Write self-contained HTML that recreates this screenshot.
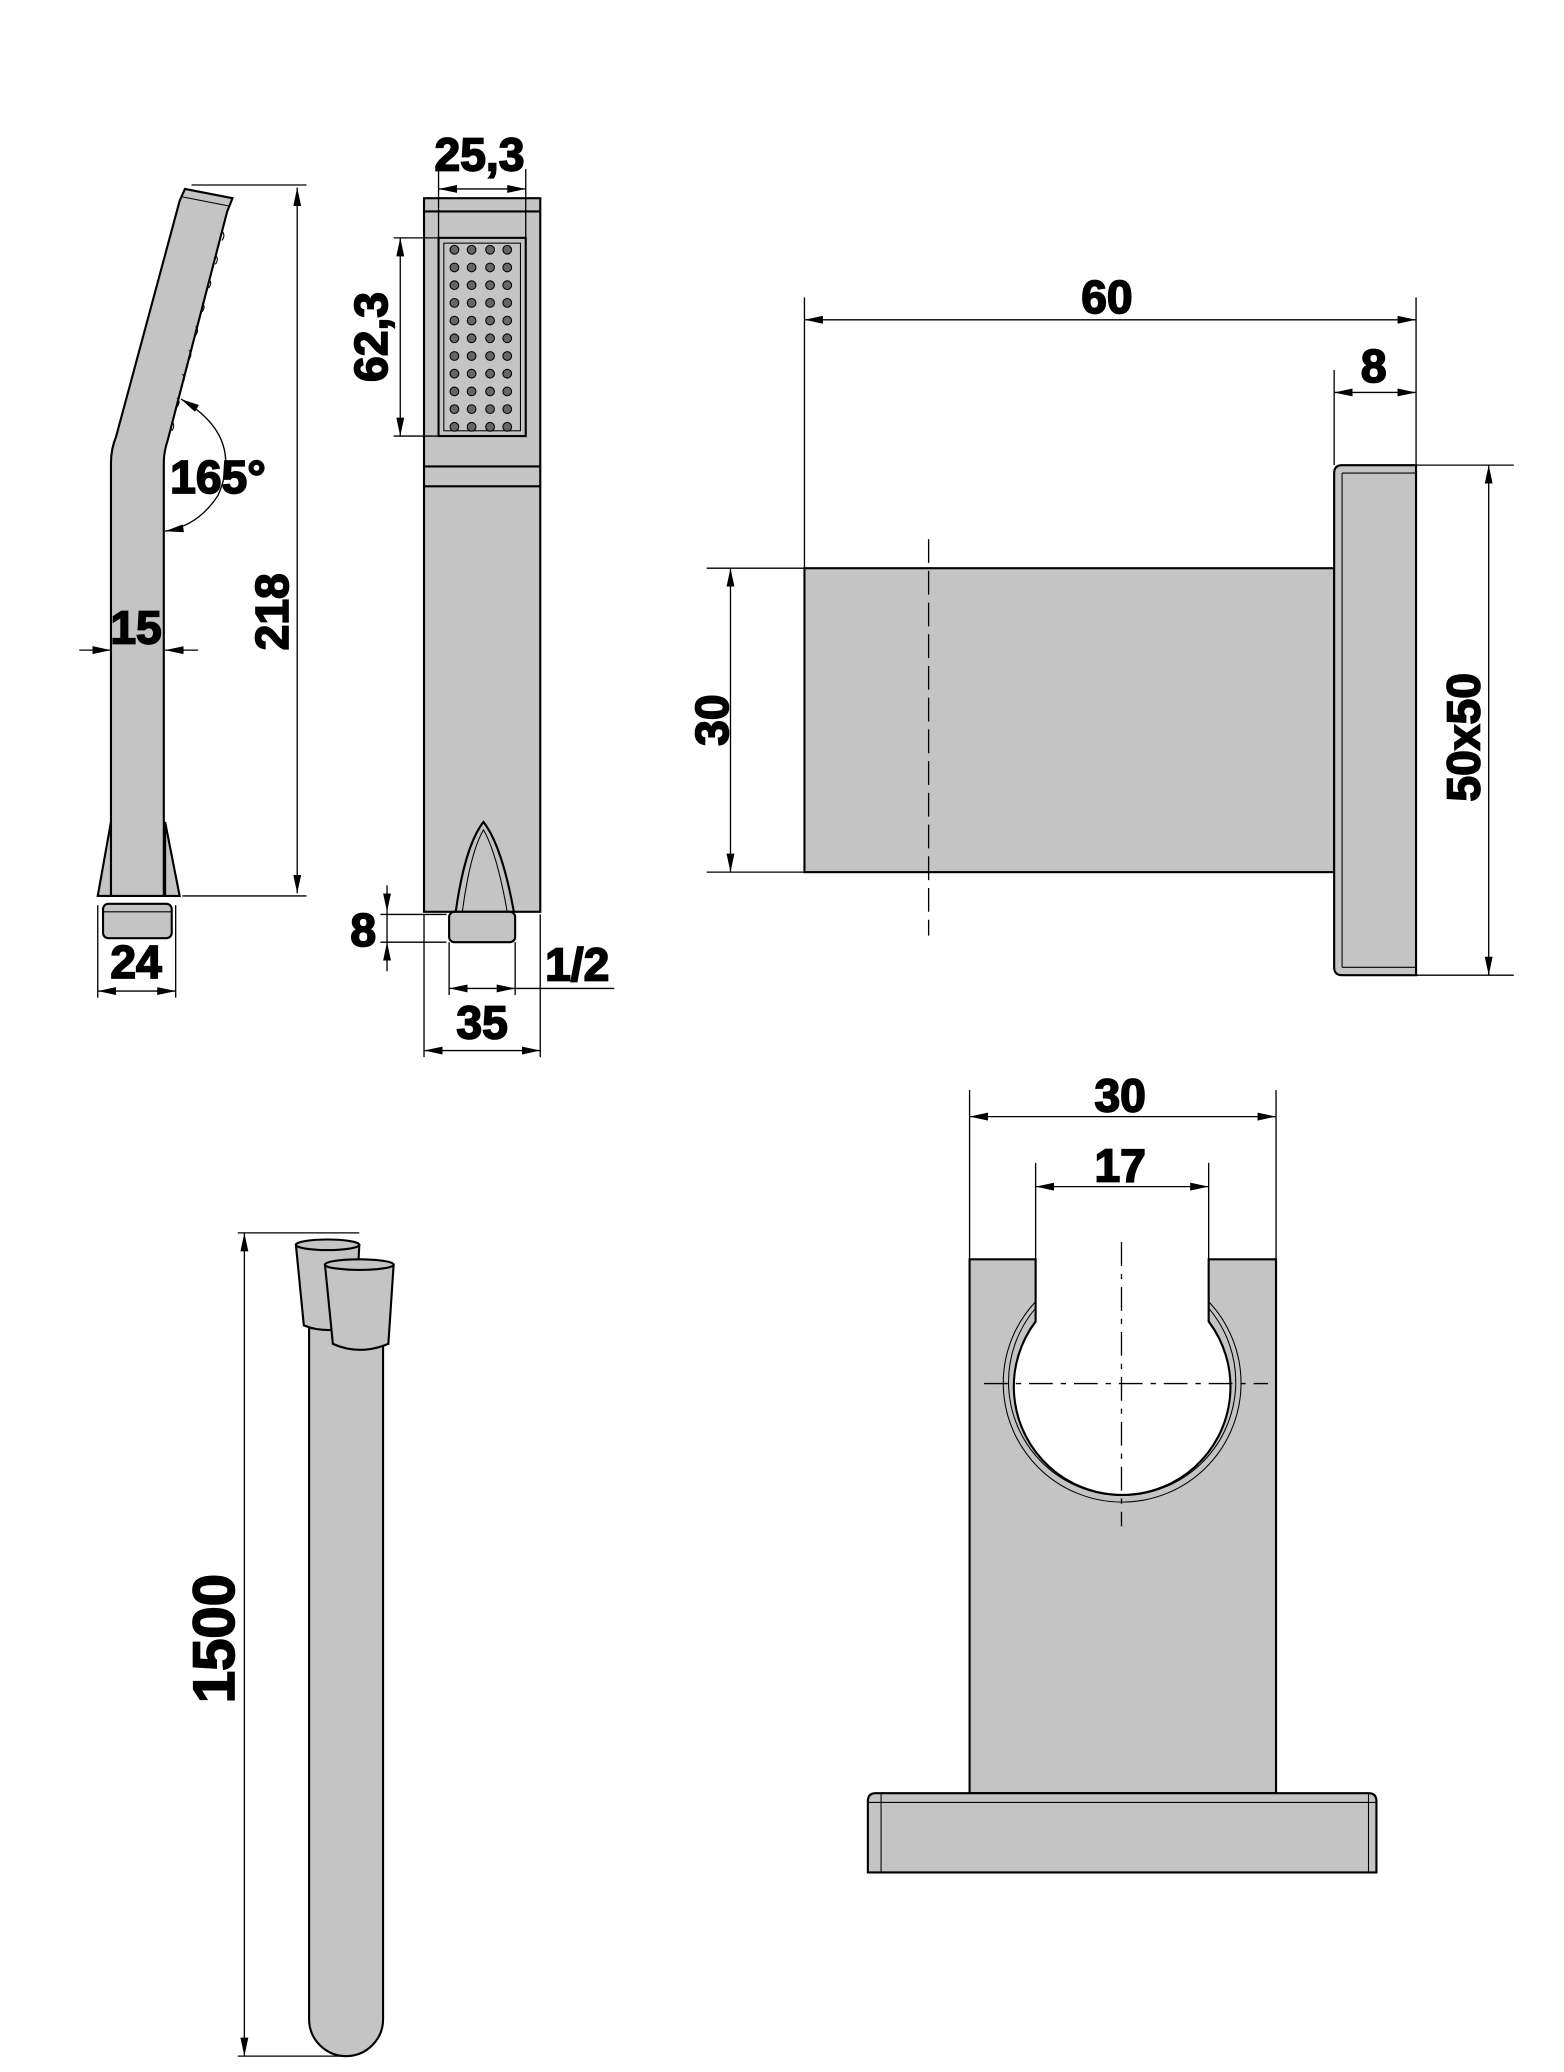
<!DOCTYPE html>
<html><head><meta charset="utf-8"><style>
html,body{margin:0;padding:0;background:#fff}
svg{display:block}
text{font-family:"Liberation Sans",sans-serif;font-weight:bold;fill:#000;stroke:#000;stroke-width:1.3}
</style></head><body>
<svg width="1564" height="2072" viewBox="0 0 1184 1568" preserveAspectRatio="none" xmlns="http://www.w3.org/2000/svg">
<defs>
<marker id="a" viewBox="0 0 14 6" refX="14" refY="3" markerWidth="14" markerHeight="6" orient="auto-start-reverse" markerUnits="userSpaceOnUse"><path d="M0,0 L14,3 L0,6 z" fill="#000"/></marker>
</defs>
<g stroke="#000" fill="#c4c4c4" stroke-width="1.6">
<path d="M140,143 L176,150 L172,160 L127,333 Q124,342 124,350 L124,678 L84,678 L84,350 Q84,340 88,330 L136,152 Z"/>
<path d="M140,143 L176,150 L174,156 L138,149" fill="none" stroke-width="0.8"/>
<path d="M84,622 L74,678 L84,678 Z M125,622 L136,678 L125,678 Z"/>
<rect x="78" y="684" width="52" height="26" rx="4"/>
<line x1="78" y1="690" x2="130" y2="690" stroke-width="0.8"/>
<g fill="none" stroke-width="0.8">
<path d="M168,175 q3,3 0,7 M163,193 q3,3 0,7 M158,211 q3,3 0,7 M153,229 q3,3 0,7 M148,247 q3,3 0,7 M143,265 q3,3 0,7 M138,283 q3,3 0,7 M134,301 q3,3 0,7 M130,319 q3,3 0,7"/>
</g>
<rect x="321" y="150" width="88" height="540"/>
<line x1="321" y1="160" x2="409" y2="160"/>
<line x1="321" y1="353" x2="409" y2="353"/>
<line x1="321" y1="368" x2="409" y2="368"/>
<rect x="332" y="180" width="66" height="150" fill="#c4c4c4"/>
<rect x="336" y="184" width="58" height="142" fill="none" stroke-width="0.8"/>
<path d="M345,690 Q352,640 366,622 Q380,640 389,690" fill="none"/>
<path d="M350,690 Q356,645 366,628 Q376,645 384,690" fill="none" stroke-width="0.8"/>
<rect x="340" y="690" width="50" height="23" rx="4"/>
<rect x="609" y="430" width="401" height="230"/>
<path d="M1016,352 L1072,352 L1072,738 L1016,738 Q1010,738 1010,732 L1010,358 Q1010,352 1016,352 Z"/>
<line x1="1016" y1="358" x2="1016" y2="732" stroke-width="0.8"/>
<line x1="1016" y1="358" x2="1072" y2="358" stroke-width="0.8"/>
<line x1="1016" y1="732" x2="1072" y2="732" stroke-width="0.8"/>
<path d="M734,953 L784,953 L784,1000 A82,82 0 1 0 915,1000 L915,953 L966,953 L966,1357 L734,1357 Z"/>
<path d="M784,990 A86,86 0 1 0 915,990" fill="none" stroke-width="0.8"/>
<path d="M784,985 A90,90 0 1 0 915,985" fill="none" stroke-width="0.8"/>
<path d="M663,1357 L1036,1357 Q1042,1357 1042,1363 L1042,1417 L657,1417 L657,1363 Q657,1357 663,1357 Z"/>
<line x1="667" y1="1357" x2="667" y2="1417" stroke-width="0.8"/>
<line x1="1036" y1="1357" x2="1036" y2="1417" stroke-width="0.8"/>
<line x1="657" y1="1364" x2="1042" y2="1364" stroke-width="0.8"/>
<path d="M234,1005 L290,1005 L290,1528 A28,28 0 0 1 234,1528 Z"/>
<path d="M224,942 Q247,936 272,942 L269,1003 Q247,1010 230,1003 Z"/>
<ellipse cx="248" cy="942" rx="24" ry="4"/>
<path d="M246,957 Q272,950 298,957 L294,1017 Q272,1026 252,1017 Z"/>
<ellipse cx="272" cy="957" rx="26" ry="4"/>
</g>
<g fill="#666" stroke="#000" stroke-width="0.8">
<g id="row"><circle cx="344" cy="189" r="3.3"/><circle cx="357" cy="189" r="3.3"/><circle cx="371" cy="189" r="3.3"/><circle cx="384" cy="189" r="3.3"/></g>
<use href="#row" y="13.4"/><use href="#row" y="26.8"/><use href="#row" y="40.2"/><use href="#row" y="53.6"/><use href="#row" y="67"/><use href="#row" y="80.4"/><use href="#row" y="93.8"/><use href="#row" y="107.2"/><use href="#row" y="120.6"/><use href="#row" y="134"/>
</g>
<g stroke="#000" stroke-width="1" fill="none">
<line x1="145" y1="140" x2="232" y2="140"/><line x1="138" y1="678" x2="232" y2="678"/>
<line x1="225" y1="142" x2="225" y2="676" marker-start="url(#a)" marker-end="url(#a)"/>
<line x1="74" y1="685" x2="74" y2="755"/><line x1="133" y1="685" x2="133" y2="755"/>
<line x1="74" y1="750" x2="133" y2="750" marker-start="url(#a)" marker-end="url(#a)"/>
<line x1="60" y1="492" x2="84" y2="492" marker-end="url(#a)"/><line x1="150" y1="492" x2="125" y2="492" marker-end="url(#a)"/>
<path d="M137,302 Q185,330 165,375 Q150,398 125,402" marker-start="url(#a)" marker-end="url(#a)"/>
<line x1="332" y1="128" x2="332" y2="180"/><line x1="398" y1="128" x2="398" y2="180"/>
<line x1="332" y1="143" x2="398" y2="143" marker-start="url(#a)" marker-end="url(#a)"/>
<line x1="298" y1="180" x2="332" y2="180"/><line x1="298" y1="330" x2="332" y2="330"/>
<line x1="303" y1="180" x2="303" y2="330" marker-start="url(#a)" marker-end="url(#a)"/>
<line x1="293" y1="670" x2="293" y2="690" marker-end="url(#a)"/><line x1="293" y1="735" x2="293" y2="713" marker-end="url(#a)"/>
<line x1="293" y1="690" x2="293" y2="713"/>
<line x1="288" y1="692" x2="338" y2="692"/><line x1="288" y1="713" x2="338" y2="713"/>
<line x1="321" y1="692" x2="321" y2="800"/><line x1="409" y1="692" x2="409" y2="800"/>
<line x1="321" y1="795" x2="409" y2="795" marker-start="url(#a)" marker-end="url(#a)"/>
<line x1="340" y1="713" x2="340" y2="753"/><line x1="390" y1="713" x2="390" y2="753"/>
<line x1="340" y1="748" x2="390" y2="748" marker-start="url(#a)" marker-end="url(#a)"/>
<line x1="390" y1="748" x2="465" y2="748"/>
<line x1="609" y1="225" x2="609" y2="430"/><line x1="1072" y1="225" x2="1072" y2="352"/><line x1="1010" y1="280" x2="1010" y2="352"/>
<line x1="609" y1="242" x2="1072" y2="242" marker-start="url(#a)" marker-end="url(#a)"/>
<line x1="1010" y1="297" x2="1072" y2="297" marker-start="url(#a)" marker-end="url(#a)"/>
<line x1="1072" y1="352" x2="1146" y2="352"/><line x1="1072" y1="738" x2="1146" y2="738"/>
<line x1="1127" y1="352" x2="1127" y2="738" marker-start="url(#a)" marker-end="url(#a)"/>
<line x1="535" y1="430" x2="609" y2="430"/><line x1="535" y1="660" x2="609" y2="660"/>
<line x1="553" y1="430" x2="553" y2="660" marker-start="url(#a)" marker-end="url(#a)"/>
<line x1="703" y1="408" x2="703" y2="708" stroke-dasharray="18,6"/>
<line x1="734" y1="825" x2="734" y2="953"/><line x1="966" y1="825" x2="966" y2="953"/>
<line x1="734" y1="845" x2="966" y2="845" marker-start="url(#a)" marker-end="url(#a)"/>
<line x1="784" y1="880" x2="784" y2="953"/><line x1="915" y1="880" x2="915" y2="953"/>
<line x1="784" y1="898" x2="915" y2="898" marker-start="url(#a)" marker-end="url(#a)"/>
<line x1="849" y1="940" x2="849" y2="1155" stroke-dasharray="18,6,4,6"/>
<line x1="745" y1="1047" x2="960" y2="1047" stroke-dasharray="18,6,4,6"/>
<line x1="180" y1="933" x2="272" y2="933"/><line x1="180" y1="1556" x2="262" y2="1556"/>
<line x1="185" y1="933" x2="185" y2="1556" marker-start="url(#a)" marker-end="url(#a)"/>
</g>
<g font-size="35">
<text x="363" y="129" text-anchor="middle">25,3</text>
<text x="165" y="373" text-anchor="middle">165°</text>
<text x="103" y="487" text-anchor="middle">15</text>
<text x="103" y="740" text-anchor="middle">24</text>
<text x="275" y="716" text-anchor="middle">8</text>
<text x="437" y="742" text-anchor="middle">1/2</text>
<text x="365" y="786" text-anchor="middle">35</text>
<text x="838" y="237" text-anchor="middle">60</text>
<text x="1040" y="289" text-anchor="middle">8</text>
<text x="848" y="841" text-anchor="middle">30</text>
<text x="848" y="894" text-anchor="middle">17</text>
<text transform="translate(218,463) rotate(-90)" text-anchor="middle">218</text>
<text transform="translate(293,255) rotate(-90)" text-anchor="middle">62,3</text>
<text transform="translate(551,545) rotate(-90)" text-anchor="middle">30</text>
<text transform="translate(1120,558) rotate(-90)" text-anchor="middle">50x50</text>
<text transform="translate(177,1240) rotate(-90)" text-anchor="middle" font-size="44">1500</text>
</g>
</svg>
</body></html>
